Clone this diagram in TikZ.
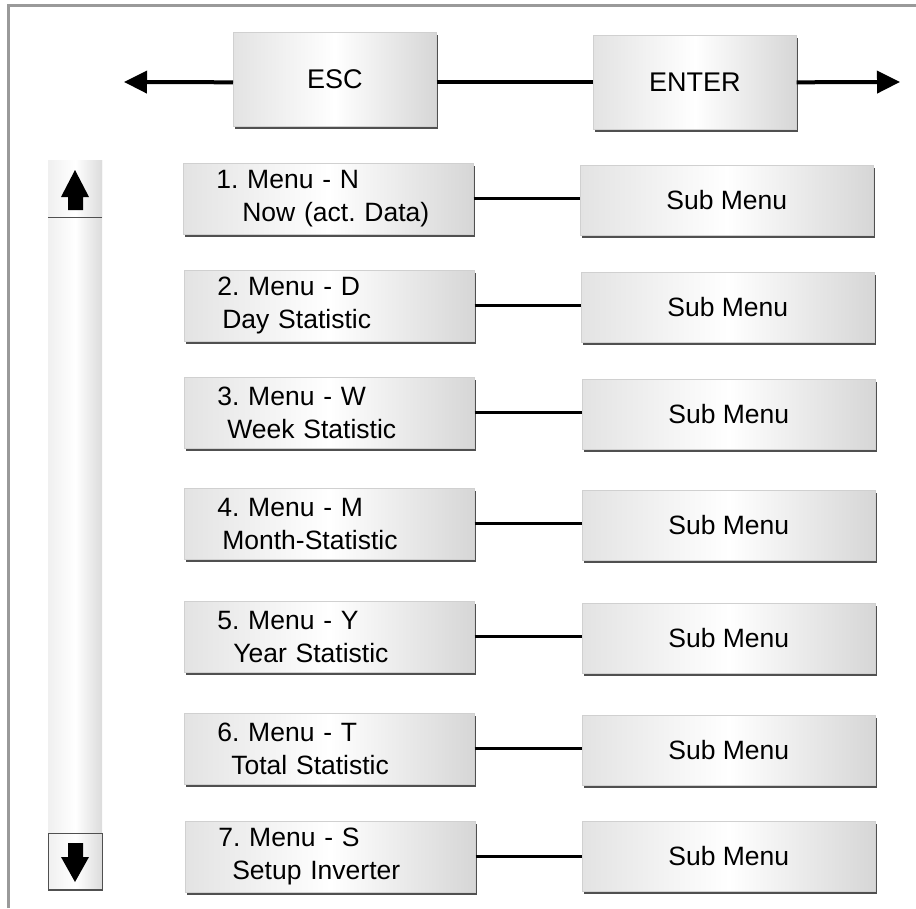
\documentclass[tikz,border=0pt]{standalone}
\usepackage{fontspec}
\setmainfont{Liberation Sans}
\usetikzlibrary{arrows.meta,shadows}
\definecolor{framegray}{HTML}{9A9A9A}
\definecolor{edgegray}{HTML}{D0D0D0}
\definecolor{shadowgray}{HTML}{505050}
\begin{document}
\begin{tikzpicture}[x=1pt,y=-1pt,
  btn/.style={draw=edgegray, line width=0.6pt, left color=black!11, right color=black!16, middle color=white,
    drop shadow={shadow xshift=2pt, shadow yshift=-2.2pt, fill=shadowgray, opacity=1}, inner sep=0pt},
  topbox/.style={btn, anchor=north west, minimum width=203pt, minimum height=94pt, font=\fontsize{27}{30}\selectfont},
  menubox/.style={btn, anchor=north west, minimum height=71pt, text width=224pt, inner xsep=33pt, align=left,
    font=\fontsize{26.5}{33}\selectfont\frenchspacing},
  subbox/.style={btn, anchor=north west, minimum width=293pt, minimum height=70pt, font=\fontsize{26.5}{30}\selectfont},
  bigline/.style={line width=4pt, black},
  rowline/.style={line width=2.8pt, black},
  tip/.style={-{Triangle[length=23pt,width=22pt]}},
  barstyle/.style={left color=black!6, right color=black!14, middle color=white, inner sep=0pt, anchor=north west, minimum width=54pt},
  darrow/.style={fill=black}
]
\useasboundingbox (0,0) rectangle (916,908);
% frame
\draw[framegray, line width=3pt] (8.5,908) -- (8.5,5) -- (916,5);

% top row
\node[topbox] (esc) at (233,32) {ESC};
\node[topbox] (enter) at (593,35) {ENTER};
\coordinate (larrow) at (124,82);
\coordinate (rarrow) at (900,82);
\draw[bigline] (esc.east |- enter.west) -- (enter.west);
\draw[bigline, tip] (esc.west |- enter.west) -- (larrow);
\draw[bigline, tip] (enter.east) -- (rarrow);

% scroll bar
\node[barstyle, minimum height=729pt] (bar) at (48,160) {};
\node[barstyle, minimum height=57pt] (up) at (48,160) {};
\draw[shadowgray, line width=1.5pt] (up.south west) -- (up.south east);
\node[barstyle, minimum height=56pt, draw=shadowgray, line width=0.8pt] (down) at (48,833) {};
\draw[shadowgray, line width=2pt] (down.south west) -- (down.south east);
\fill[darrow] (75,170) -- (89,197) -- (83,197) -- (83,210) -- (68,210) -- (68,197) -- (61,197) -- cycle;
\fill[darrow] (75,882) -- (89,857) -- (83,857) -- (83,843) -- (68,843) -- (68,857) -- (61,857) -- cycle;

% menu rows
\node[menubox] (m1) at (183,163) {1. Menu - N\\\hspace*{26pt}Now (act. Data)};
\node[menubox] (m2) at (184,270) {2. Menu - D\\\hspace*{5pt}Day Statistic};
\node[menubox] (m3) at (184,377) {3. Menu - W\\\hspace*{10pt}Week Statistic};
\node[menubox] (m4) at (184,488) {4. Menu - M\\\hspace*{5pt}Month-Statistic};
\node[menubox] (m5) at (184,601) {5. Menu - Y\\\hspace*{16pt}Year Statistic};
\node[menubox] (m6) at (184,713) {6. Menu - T\\\hspace*{14pt}Total Statistic};
\node[menubox] (m7) at (185,821) {7. Menu - S\\\hspace*{14pt}Setup Inverter};

\node[subbox] (s1) at (580,165) {Sub Menu};
\node[subbox] (s2) at (581,272) {Sub Menu};
\node[subbox] (s3) at (582,379) {Sub Menu};
\node[subbox] (s4) at (582,490) {Sub Menu};
\node[subbox] (s5) at (582,603) {Sub Menu};
\node[subbox] (s6) at (582,715) {Sub Menu};
\node[subbox] (s7) at (582,821) {Sub Menu};

\foreach \i in {1,...,7}{
  \draw[rowline] (m\i.east) -- (s\i.west |- m\i.east);
}
\end{tikzpicture}
\end{document}
